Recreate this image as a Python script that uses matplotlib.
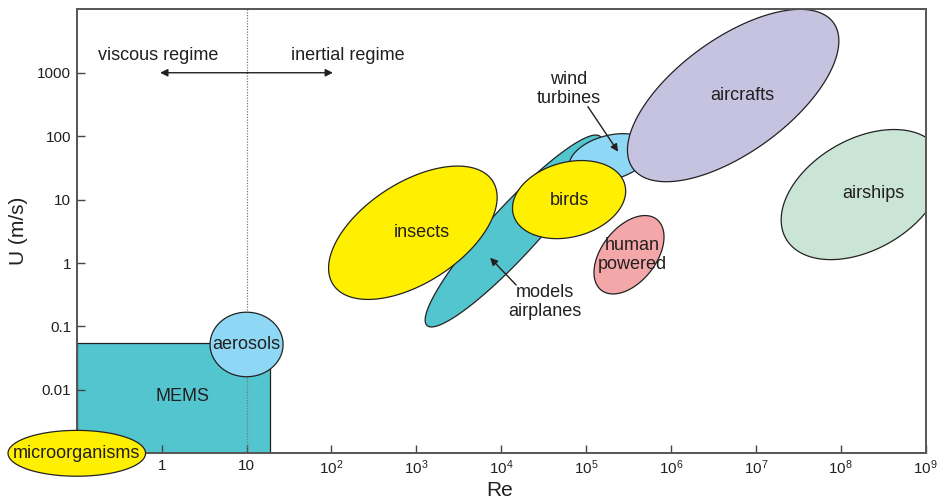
import numpy as np
import matplotlib.pyplot as plt

plt.rcParams['font.family'] = ['Liberation Sans', 'DejaVu Sans']
plt.rcParams['mathtext.fontset'] = 'custom'
plt.rcParams['mathtext.rm'] = 'Liberation Sans'
plt.rcParams['mathtext.it'] = 'Liberation Sans:italic'

# flight regimes: centre (Re, U), semi-axes in decades of Re, tilt in degrees
names = ['microorganisms', 'aerosols', 'models airplanes', 'insects',
         'wind turbines', 'birds', 'aircrafts', 'human powered', 'airships']
re_c = [0.1, 10, 1.4e4, 9.1e2, 1.9e5, 6.3e4, 5.4e6, 3.2e5, 1.8e8]
u_c = [0.001, 0.052, 3.2, 3.0, 46, 10, 437, 1.35, 12]
semi_major = [0.81, 0.43, 1.51, 1.12, 0.49, 0.68, 1.46, 0.53, 1.04]
semi_minor = [0.27, 0.38, 0.29, 0.59, 0.26, 0.44, 0.67, 0.32, 0.65]
tilt = [0, 0, 47.5, 33, 15, 15, 36, 52, 30]
colors = ['#FFEF00', '#8ED8F5', '#53C5CF', '#FFEF00', '#8ED8F5',
          '#FFEF00', '#C6C3E1', '#F4A7A9', '#CAE5D6']
layer = [4, 3, 1.1, 1.2, 1.3, 1.4, 1.5, 1.2, 1.2]

# text inside the regions
labels = ['microorganisms', 'aerosols', 'insects', 'birds', 'aircrafts',
          'human\npowered', 'airships', 'MEMS']
label_re = [0.1, 10, 1.15e3, 6.3e4, 7.0e6, 3.5e5, 2.4e8, 1.75]
label_u = [0.001, 0.052, 3.0, 9.7, 437, 1.35, 12.5, 0.0078]

# MEMS box
mems_re = [0.1, 19]
mems_u = [0.001, 0.055]

xticks = [1, 10, 1e2, 1e3, 1e4, 1e5, 1e6, 1e7, 1e8, 1e9]
xticklabels = ['1', '10'] + [r'$10^{%d}$' % i for i in range(2, 10)]
yticks = [0.01, 0.1, 1, 10, 100, 1000]
yticklabels = ['0.01', '0.1', '1', '10', '100', '1000']

fig = plt.figure(figsize=(9.41, 5.01), dpi=100)
ax = fig.add_axes([0.0816, 0.0952, 0.9021, 0.8862])
ax.set_xscale('log')
ax.set_yscale('log')
ax.set_xlim(0.1, 1e9)
ax.set_ylim(1e-3, 1e4)

# decades of U per visual decade of Re
pos = ax.get_position()
w_px = pos.width * fig.get_figwidth() * fig.dpi
h_px = pos.height * fig.get_figheight() * fig.dpi
k = (w_px / 10) / (h_px / 7)

t = np.linspace(0, 2 * np.pi, 300)
for i in range(len(names)):
    phi = np.radians(tilt[i])
    a, b = semi_major[i], semi_minor[i]
    dx = a * np.cos(t) * np.cos(phi) - b * np.sin(t) * np.sin(phi)
    dy = a * np.cos(t) * np.sin(phi) + b * np.sin(t) * np.cos(phi)
    xs = 10 ** (np.log10(re_c[i]) + dx)
    ys = 10 ** (np.log10(u_c[i]) + dy * k)
    ax.fill(xs, ys, facecolor=colors[i], edgecolor='#222222', lw=0.9,
            zorder=layer[i], clip_on=(names[i] != 'microorganisms'))

ax.fill([mems_re[0], mems_re[1], mems_re[1], mems_re[0]],
        [mems_u[0], mems_u[0], mems_u[1], mems_u[1]],
        facecolor='#53C5CF', edgecolor='#222222', lw=0.9, zorder=1)

# Re = 10 boundary between the two regimes
ax.axvline(10, color='#777777', ls=(0, (1, 1.2)), lw=0.9, zorder=2)

for s, x, y in zip(labels, label_re, label_u):
    ax.text(x, y, s, ha='center', va='center', fontsize=13, color='#231F20',
            zorder=5, linespacing=1.15)

ax.text(0.9, 1900, 'viscous regime', ha='center', va='center', fontsize=13,
        color='#231F20')
ax.text(155, 1900, 'inertial regime', ha='center', va='center', fontsize=13,
        color='#231F20')
arrow = dict(arrowstyle='-|>', color='#231F20', lw=1, mutation_scale=11,
             shrinkA=0, shrinkB=0)
ax.annotate('', xy=(0.96, 1000), xytext=(10, 1000), arrowprops=arrow)
ax.annotate('', xy=(104, 1000), xytext=(10, 1000), arrowprops=arrow)

ax.text(6.2e4, 560, 'wind\nturbines', ha='center', va='center', fontsize=13,
        color='#231F20', linespacing=1.15, zorder=6)
ax.annotate('', xy=(2.38e5, 57), xytext=(1.05e5, 292), arrowprops=arrow,
            zorder=6)
ax.text(3.3e4, 0.245, 'models\nairplanes', ha='center', va='center',
        fontsize=13, color='#231F20', linespacing=1.15, zorder=6)
ax.annotate('', xy=(7.4e3, 1.21), xytext=(1.5e4, 0.45), arrowprops=arrow,
            zorder=6)

ax.xaxis.set_ticks(xticks)
ax.xaxis.set_ticklabels(xticklabels)
ax.yaxis.set_ticks(yticks)
ax.yaxis.set_ticklabels(yticklabels)
ax.minorticks_off()
ax.tick_params(direction='in', length=6, width=1, color='#444444',
               labelsize=11, labelcolor='#231F20', pad=4)

for sp in ax.spines.values():
    sp.set_color('#555555')
    sp.set_linewidth(1.4)

ax.set_xlabel('Re', fontsize=15, color='#231F20', va='center')
ax.set_ylabel('U (m/s)', fontsize=15, color='#231F20', va='center')
ax.xaxis.set_label_coords(0.4985, -0.083)
ax.yaxis.set_label_coords(-0.069, 0.5)

fig.savefig('out.png', dpi=100)
